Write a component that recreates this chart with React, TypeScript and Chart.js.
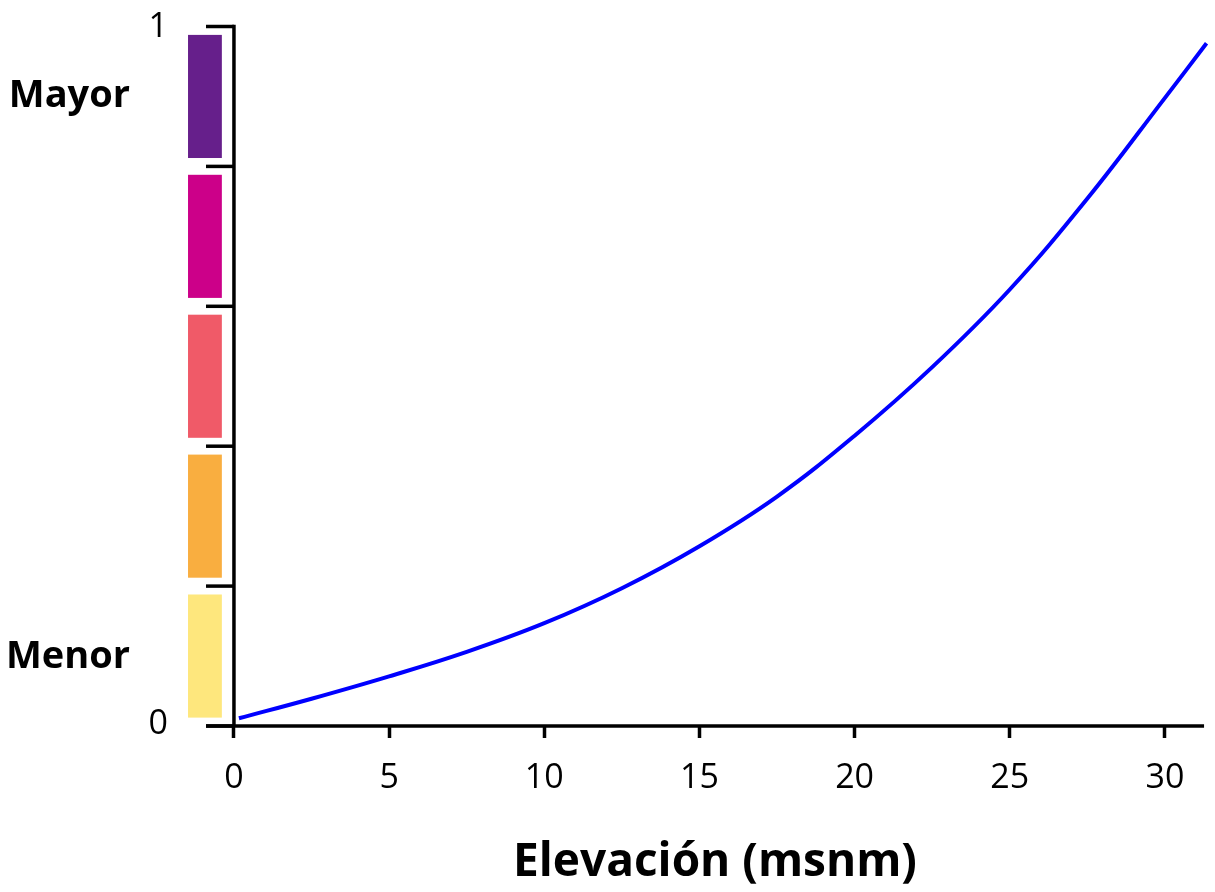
import React, { useEffect, useRef } from 'react';
import { Chart, registerables } from 'chart.js';

Chart.register(...registerables);

// Curve: elevation (msnm) vs. relative value (0..1)
const elevation = [0.16, 2.5, 5, 7.5, 10, 12.5, 15, 17.5, 20, 22.5, 25, 27.5, 30, 31.34];
const relativeValue = [0.011, 0.039, 0.071, 0.106, 0.147, 0.197, 0.257, 0.328, 0.415, 0.513, 0.624, 0.754, 0.898, 0.976];

const xTickValues = [0, 5, 10, 15, 20, 25, 30];
const yTickValues = [0, 0.2, 0.4, 0.6, 0.8, 1];

// Colour scale bands along the y axis
const bandStarts = [0, 0.2, 0.4, 0.6, 0.8];
const bandEnds = [0.2, 0.4, 0.6, 0.8, 1];
const bandColors = ['#FEE77D', '#F9AE40', '#F05A68', '#CC0089', '#661F8B'];

const yEndLabels = ['0', '1'];
const levelLabels = ['Menor', 'Mayor'];
const xTitle = 'Elevación (msnm)';

const FONT = '"Open Sans", "Noto Sans", sans-serif';

const decorPlugin = {
  id: 'decor',
  beforeDatasetsDraw(chart: any) {
    const { ctx } = chart;
    const xs = chart.scales.x;
    const ys = chart.scales.y;
    ctx.save();
    // colour bands
    const gap = 0.012;
    bandStarts.forEach((lo, i) => {
      const hi = bandEnds[i];
      const x0 = xs.getPixelForValue(-1.48);
      const x1 = xs.getPixelForValue(-0.39);
      const y0 = ys.getPixelForValue(hi - gap);
      const y1 = ys.getPixelForValue(lo + gap);
      ctx.fillStyle = bandColors[i];
      ctx.fillRect(x0, y0, x1 - x0, y1 - y0);
    });
    ctx.strokeStyle = '#000';
    ctx.lineWidth = 3.5;
    ctx.lineCap = 'butt';
    const ax = xs.getPixelForValue(0);
    // y axis line
    ctx.beginPath();
    ctx.moveTo(ax, ys.getPixelForValue(1) - 1.75);
    ctx.lineTo(ax, ys.getPixelForValue(0));
    ctx.stroke();
    // y ticks pointing left
    yTickValues.forEach((v) => {
      const py = ys.getPixelForValue(v);
      ctx.beginPath();
      ctx.moveTo(xs.getPixelForValue(-0.9), py);
      ctx.lineTo(ax, py);
      ctx.stroke();
    });
    // x axis line
    const by = ys.getPixelForValue(0);
    ctx.beginPath();
    ctx.moveTo(xs.getPixelForValue(-0.9), by);
    ctx.lineTo(xs.getPixelForValue(31.26), by);
    ctx.stroke();

    // text
    ctx.fillStyle = '#000';
    ctx.textBaseline = 'middle';
    ctx.textAlign = 'right';
    const barLeft = xs.getPixelForValue(-1.48);
    ctx.font = `34px ${FONT}`;
    ctx.fillText(yEndLabels[0], barLeft - 20, ys.getPixelForValue(0) - 2);
    ctx.fillText(yEndLabels[1], barLeft - 20, ys.getPixelForValue(1) + 1);
    ctx.textBaseline = 'alphabetic';
    ctx.font = `bold 38px ${FONT}`;
    ctx.fillText(levelLabels[0], barLeft - 58, ys.getPixelForValue(0.1) + 12);
    ctx.fillText(levelLabels[1], barLeft - 58, ys.getPixelForValue(0.9) + 11);
    // x axis title
    ctx.textAlign = 'center';
    ctx.font = `bold 46px ${FONT}`;
    ctx.fillText(xTitle, xs.getPixelForValue(15.5), ys.getPixelForValue(0) + 150);
    ctx.restore();
  },
};

export default function App() {
  const canvasRef = useRef<HTMLCanvasElement | null>(null);

  useEffect(() => {
    const canvas = canvasRef.current;
    if (!canvas) return;
    const chart = new Chart(canvas, {
      type: 'line',
      data: {
        datasets: [
          {
            data: elevation.map((x, i) => ({ x, y: relativeValue[i] })),
            borderColor: '#0000FF',
            borderWidth: 4,
            pointRadius: 0,
            tension: 0.4,
            fill: false,
            clip: false as any,
          },
        ],
      },
      options: {
        animation: false,
        responsive: false,
        maintainAspectRatio: false,
        layout: { padding: { left: 184.3, right: 6.6, top: 26.5, bottom: 73.2 } },
        plugins: { legend: { display: false }, tooltip: { enabled: false } },
        scales: {
          x: {
            type: 'linear',
            min: -1.6,
            max: 31.4,
            afterBuildTicks: (s: any) => {
              s.ticks = xTickValues.map((v) => ({ value: v }));
            },
            grid: {
              drawOnChartArea: false,
              drawTicks: true,
              tickLength: 12,
              tickWidth: 3.5,
              tickColor: '#000',
            },
            border: { display: false },
            ticks: {
              font: { family: FONT, size: 34 },
              color: '#000',
              padding: 20,
              maxRotation: 0,
            },
            title: { display: false },
          },
          y: { type: 'linear', min: 0, max: 1, display: false },
        },
      },
      plugins: [decorPlugin],
    } as any);
    return () => chart.destroy();
  }, []);

  return (
    <div style={{ position: 'absolute', left: 0, top: 0, width: 1215, height: 892, background: '#fff' }}>
      <canvas ref={canvasRef} width={1215} height={892} style={{ display: 'block' }} />
    </div>
  );
}
